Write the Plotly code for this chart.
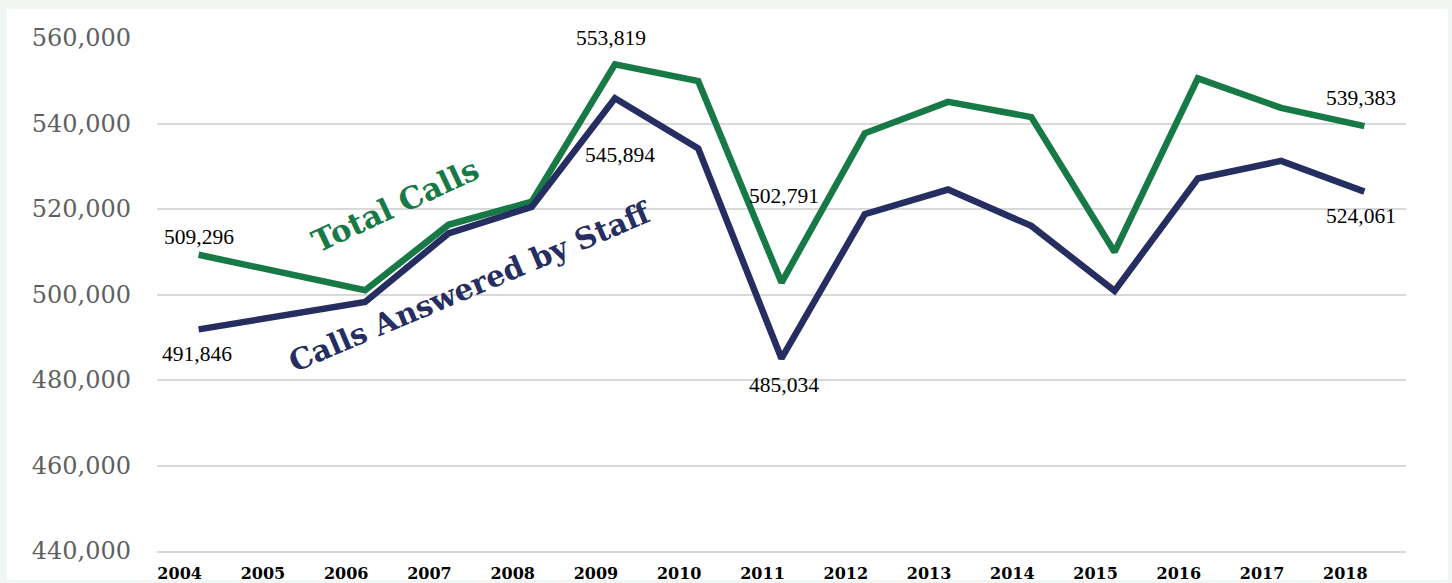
import plotly.graph_objects as go

years = list(range(2004, 2019))
year_labels = [str(y) for y in years]

total_calls = [509296, 505100, 501000, 516300, 521700, 553819, 549900, 502791,
               537700, 545050, 541500, 509950, 550550, 543650, 539383]
answered_by_staff = [491846, 495000, 498250, 514270, 520500, 545894, 534150, 485034,
                     518780, 524560, 516050, 500850, 527130, 531250, 524061]

y_ticks = [440000, 460000, 480000, 500000, 520000, 540000, 560000]

total_label_idx = [0, 5, 7, 14]
staff_label_idx = [0, 5, 7, 14]

GREEN = "#177a46"
NAVY = "#262e61"
OUTER = "#f1f6f2"
GRID = "#d9d9d9"

fig = go.Figure()
fig.add_trace(go.Scatter(x=years, y=total_calls, mode="lines", name="Total Calls",
                         line=dict(color=GREEN, width=6.5)))
fig.add_trace(go.Scatter(x=years, y=answered_by_staff, mode="lines",
                         name="Calls Answered by Staff",
                         line=dict(color=NAVY, width=6.5)))

total_shifts = {0: (0, 18), 5: (-4, 26), 7: (2, 87), 14: (-3, 28)}
staff_shifts = {0: (-2, -25), 5: (5, -57), 7: (2, -27), 14: (-3, -24)}

label_font = dict(family="Liberation Serif", size=21.5, color="#000000")
for i in total_label_idx:
    dx, dy = total_shifts[i]
    fig.add_annotation(x=years[i], y=total_calls[i], text=f"{total_calls[i]:,}",
                       showarrow=False, xshift=dx, yshift=dy, font=label_font)
for i in staff_label_idx:
    dx, dy = staff_shifts[i]
    fig.add_annotation(x=years[i], y=answered_by_staff[i], text=f"{answered_by_staff[i]:,}",
                       showarrow=False, xshift=dx, yshift=dy, font=label_font)

fig.add_annotation(x=2006.36, y=521000, text="<b>Total Calls</b>", showarrow=False,
                   textangle=-25, font=dict(family="DejaVu Serif", size=30.5, color=GREEN))
fig.add_annotation(x=2007.26, y=501800, text="<b>Calls Answered by Staff</b>", showarrow=False,
                   textangle=-23, font=dict(family="DejaVu Serif", size=29.5, color=NAVY))

fig.add_shape(type="rect", xref="paper", yref="paper", x0=-0.1201, x1=1.0336,
              y0=-0.0565, y1=1.0565, fillcolor="white", line=dict(width=0), layer="below")

fig.update_layout(
    width=1452, height=583,
    margin=dict(l=157, r=46, t=38, b=32),
    paper_bgcolor=OUTER, plot_bgcolor="white",
    showlegend=False,
    xaxis=dict(range=[2003.5, 2018.5], tickvals=years, ticktext=year_labels,
               automargin=False,
               showgrid=False, zeroline=False, showline=True, linecolor=GRID, linewidth=1.5,
               tickfont=dict(family="DejaVu Serif", size=16, color="#000000", weight="bold"),
               ticklabelshift=-19, ticklabelstandoff=7),
    yaxis=dict(range=[440000, 560000], tickvals=y_ticks, tickformat=",",
               automargin=False,
               showgrid=True, gridcolor=GRID, gridwidth=1.5, zeroline=False, showline=False,
               tickfont=dict(family="DejaVu Serif", size=24, color="#5f5f5f"),
               ticklabelstandoff=25),
)

fig.write_html("out.html",
               config={"displayModeBar": False},
               post_script="document.body.style.margin='0';"
                           "document.body.style.overflow='hidden';"
                           "document.body.style.background='" + OUTER + "';")
